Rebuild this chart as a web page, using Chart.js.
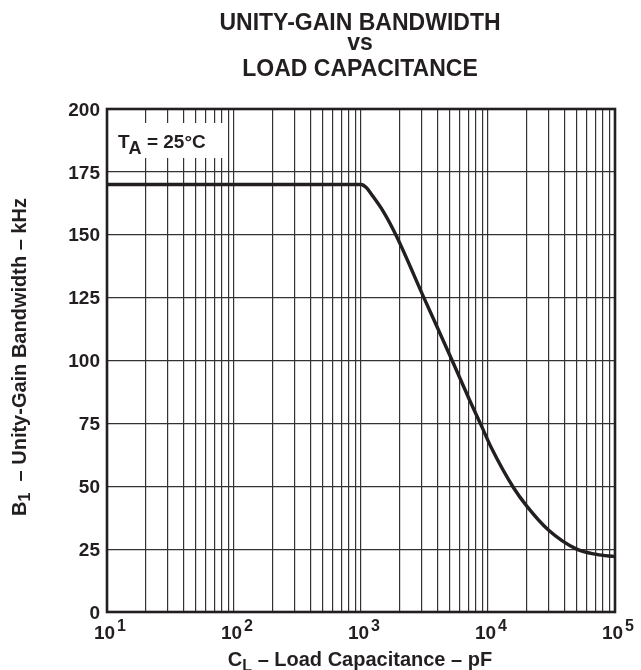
<!DOCTYPE html>
<html>
<head>
<meta charset="utf-8">
<script src="https://cdn.jsdelivr.net/npm/chart.js@4"></script>
<style>
html,body{margin:0;padding:0;background:#fff;}
canvas{display:block;}
</style>
</head>
<body>
<canvas id="c" width="641" height="670"></canvas>
<script>
// ---- data ----
const capacitance = [10, 100, 1000, 1100, 1200, 1500, 1900, 3100, 5200, 7200, 8700, 10700, 15800, 20200, 29900, 49900, 71600, 100000];
const bandwidth   = [170, 170, 170, 168.8, 166.3, 159.2, 149.5, 125.4, 100.2, 84, 75, 65, 49.6, 42.1, 32.6, 25, 22.9, 22];

const titleLines = ['UNITY-GAIN BANDWIDTH', 'vs', 'LOAD CAPACITANCE'];
const yTickValues = [0, 25, 50, 75, 100, 125, 150, 175, 200];
const xDecades = [10, 100, 1000, 10000, 100000];
const xDecadeExponents = ['1', '2', '3', '4', '5'];
const xMantissas = [1, 2, 3, 4, 5, 6, 7, 8, 9];
const annotationMain = 'T';
const annotationSub = 'A';
const annotationRest = ' = 25°C';

const INK = '#231f20';
const FONT = '"Liberation Sans", Arial, Helvetica, sans-serif';

const xGridValues = [];
xDecades.forEach((d, i) => {
  if (i === xDecades.length - 1) { xGridValues.push(d); return; }
  xMantissas.forEach(m => xGridValues.push(d * m));
});

function font(size) { return 'bold ' + size + 'px ' + FONT; }

const textPlugin = {
  id: 'textPlugin',
  beforeDatasetsDraw(chart) {
    const ctx = chart.ctx;
    ctx.save();
    ctx.fillStyle = '#ffffff';
    ctx.fillRect(chart.chartArea.left + 1, 123, 116, 35);
    ctx.restore();
  },
  afterDraw(chart) {
    const ctx = chart.ctx;
    const a = chart.chartArea;
    const xs = chart.scales.x, ys = chart.scales.y;
    ctx.save();
    ctx.strokeStyle = INK;
    ctx.lineWidth = 2.6;
    ctx.strokeRect(a.left, a.top, a.right - a.left, a.bottom - a.top);

    ctx.fillStyle = INK;
    ctx.textAlign = 'center';
    ctx.textBaseline = 'alphabetic';
    ctx.font = font(23);
    const tb = [30, 50, 76];
    titleLines.forEach((t, i) => ctx.fillText(t, 360, tb[i]));

    ctx.textAlign = 'right';
    ctx.font = font(19);
    yTickValues.forEach(v => {
      ctx.fillText(String(v), 100, ys.getPixelForValue(v) + 6.7);
    });

    ctx.textAlign = 'left';
    xDecades.forEach((d, i) => {
      const px = xs.getPixelForValue(d);
      ctx.font = font(19);
      const w1 = ctx.measureText('10').width;
      ctx.font = font(16);
      const w2 = ctx.measureText(xDecadeExponents[i]).width;
      const total = w1 + 2 + w2;
      const x0 = px + 3 - total / 2;
      ctx.font = font(19);
      ctx.fillText('10', x0, 639);
      ctx.font = font(16);
      ctx.fillText(xDecadeExponents[i], x0 + w1 + 2, 631);
    });

    {
      const parts = [['C', 20, 0], ['L', 16, 5], [' – Load Capacitance – pF', 20, 0]];
      let total = 0;
      parts.forEach(p => { ctx.font = font(p[1]); total += ctx.measureText(p[0]).width; });
      let x = 360 - total / 2;
      parts.forEach(p => {
        ctx.font = font(p[1]);
        ctx.fillText(p[0], x, 666 + p[2]);
        x += ctx.measureText(p[0]).width;
      });
    }

    {
      ctx.save();
      ctx.translate(26, 357);
      ctx.rotate(-Math.PI / 2);
      const parts = [['B', 20, 0], ['1', 16, 4], ['  – Unity-Gain Bandwidth – kHz', 20, 0]];
      let total = 0;
      parts.forEach(p => { ctx.font = font(p[1]); total += ctx.measureText(p[0]).width; });
      let x = -total / 2;
      parts.forEach(p => {
        ctx.font = font(p[1]);
        ctx.fillText(p[0], x, p[2]);
        x += ctx.measureText(p[0]).width;
      });
      ctx.restore();
    }

    {
      let x = 118;
      ctx.font = font(19);
      ctx.fillText(annotationMain, x, 148);
      x += ctx.measureText(annotationMain).width - 1;
      ctx.font = font(18);
      ctx.fillText(annotationSub, x, 154);
      x += ctx.measureText(annotationSub).width;
      ctx.font = font(19);
      ctx.fillText(annotationRest, x, 148);
    }
    ctx.restore();
  }
};

new Chart(document.getElementById('c'), {
  type: 'line',
  data: {
    datasets: [{
      data: capacitance.map((c, i) => ({ x: c, y: bandwidth[i] })),
      borderColor: INK,
      borderWidth: 3.4,
      pointRadius: 0,
      fill: false,
      cubicInterpolationMode: 'monotone'
    }]
  },
  options: {
    responsive: false,
    animation: false,
    devicePixelRatio: 1,
    layout: { padding: { left: 0, right: 26, top: 109, bottom: 0 } },
    plugins: { legend: { display: false }, tooltip: { enabled: false }, title: { display: false } },
    scales: {
      x: {
        type: 'logarithmic',
        min: 10, max: 100000,
        afterBuildTicks: s => { s.ticks = xGridValues.map(v => ({ value: v })); },
        ticks: { display: false },
        grid: { color: '#333333', lineWidth: 1.2, drawTicks: false },
        border: { display: false },
        afterFit: s => { s.height = 58; }
      },
      y: {
        min: 0, max: 200,
        afterBuildTicks: s => { s.ticks = yTickValues.map(v => ({ value: v })); },
        ticks: { display: false },
        grid: { color: '#333333', lineWidth: 1.2, drawTicks: false },
        border: { display: false },
        afterFit: s => { s.width = 107; }
      }
    }
  },
  plugins: [textPlugin]
});
</script>
</body>
</html>
